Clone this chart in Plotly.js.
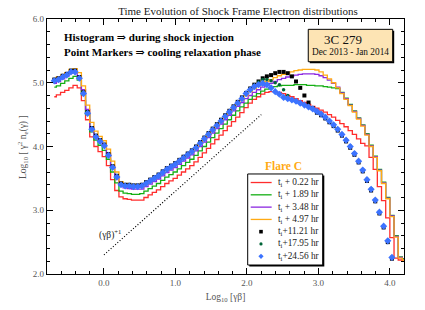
<!DOCTYPE html>
<html><head><meta charset="utf-8">
<script src="https://cdn.plot.ly/plotly-3.0.1.min.js"></script>
<style>html,body{margin:0;padding:0;background:#fff}#c{width:425px;height:310px}</style>
</head><body><div id="c"></div>
<script>
// bin centres, log10(gamma*beta)
const logGB = [-0.695,-0.637,-0.578,-0.520,-0.462,-0.404,-0.345,-0.287,-0.229,-0.170,
-0.112,-0.054,0.005,0.063,0.121,0.180,0.238,0.296,0.354,0.413,
0.471,0.529,0.588,0.646,0.704,0.763,0.821,0.879,0.937,0.996,
1.054,1.112,1.171,1.229,1.287,1.346,1.404,1.462,1.520,1.579,
1.637,1.695,1.754,1.812,1.870,1.929,1.987,2.045,2.103,2.162,
2.220,2.278,2.337,2.395,2.453,2.512,2.570,2.628,2.686,2.745,
2.803,2.861,2.920,2.978,3.036,3.095,3.153,3.211,3.269,3.328,
3.386,3.444,3.503,3.561,3.619,3.678,3.736,3.794,3.852,3.911,
3.969,4.027,4.086,4.144,4.202];

// histograms (shock injection)
const histT022 = [4.78,4.81,4.85,4.88,4.92,4.96,4.92,4.72,4.42,4.15,
4.00,3.92,3.84,3.70,3.48,3.31,3.21,3.18,3.17,3.16,
3.16,3.16,3.20,3.24,3.28,3.32,3.37,3.42,3.46,3.50,
3.55,3.60,3.65,3.70,3.76,3.83,3.90,3.97,4.04,4.11,
4.18,4.25,4.32,4.39,4.46,4.53,4.61,4.68,4.74,4.78,
4.82,4.85,4.86,4.86,4.85,4.83,4.80,4.78,4.75,4.72,
4.69,4.66,4.63,4.60,4.57,4.54,4.50,4.46,4.41,4.36,
4.31,4.25,4.19,4.12,4.05,4.01,3.83,3.64,3.37,3.15,
2.88,2.57,2.25,2.22,2.20];
const histT189 = [4.93,4.95,4.99,5.03,5.07,5.10,5.04,4.81,4.50,4.23,
4.10,4.02,3.94,3.80,3.60,3.43,3.30,3.27,3.26,3.25,
3.25,3.26,3.30,3.34,3.38,3.42,3.47,3.52,3.56,3.60,
3.65,3.70,3.75,3.80,3.86,3.93,4.00,4.07,4.14,4.21,
4.28,4.35,4.42,4.49,4.56,4.62,4.68,4.74,4.79,4.83,
4.87,4.90,4.92,4.94,4.95,4.96,4.96,4.96,4.97,4.97,
4.97,4.96,4.96,4.95,4.95,4.94,4.93,4.92,4.91,4.85,
4.76,4.66,4.56,4.45,4.34,4.20,4.02,3.85,3.64,3.44,
3.20,2.92,2.60,2.27,2.24];
const histT348 = [4.99,5.02,5.06,5.10,5.15,5.17,5.11,4.89,4.58,4.30,
4.17,4.10,4.02,3.89,3.69,3.52,3.39,3.35,3.34,3.33,
3.33,3.33,3.37,3.41,3.45,3.49,3.54,3.59,3.63,3.67,
3.72,3.77,3.82,3.87,3.93,4.00,4.07,4.14,4.21,4.28,
4.35,4.42,4.49,4.56,4.63,4.69,4.75,4.80,4.85,4.89,
4.93,4.96,4.99,5.02,5.05,5.07,5.09,5.11,5.12,5.13,
5.14,5.14,5.14,5.13,5.11,5.08,5.04,4.99,4.93,4.84,
4.75,4.65,4.55,4.44,4.33,4.19,4.01,3.84,3.63,3.43,
3.19,2.91,2.59,2.26,2.23];
const histT497 = [5.06,5.09,5.12,5.16,5.21,5.22,5.16,4.95,4.65,4.38,
4.24,4.16,4.09,3.96,3.77,3.60,3.45,3.39,3.38,3.37,
3.37,3.37,3.41,3.45,3.49,3.53,3.58,3.63,3.67,3.71,
3.76,3.81,3.86,3.91,3.97,4.04,4.11,4.18,4.25,4.32,
4.39,4.46,4.53,4.60,4.67,4.73,4.80,4.86,4.91,4.95,
4.99,5.02,5.05,5.08,5.11,5.13,5.15,5.17,5.19,5.20,
5.21,5.21,5.21,5.20,5.17,5.12,5.06,5.00,4.92,4.83,
4.74,4.64,4.54,4.43,4.32,4.18,4.00,3.83,3.62,3.42,
3.18,2.90,2.58,2.25,2.22];

// point markers (cooling relaxation)
const ptsT1121 = [5.05,5.07,5.11,5.14,5.19,5.19,5.09,4.85,4.54,4.29,
4.17,4.10,4.03,3.88,3.69,3.54,3.42,3.40,3.40,3.39,
3.39,3.40,3.44,3.48,3.52,3.56,3.61,3.66,3.70,3.74,
3.79,3.84,3.89,3.94,4.00,4.07,4.14,4.21,4.28,4.35,
4.42,4.49,4.56,4.63,4.70,4.77,4.84,4.91,4.97,5.02,
5.07,5.10,5.12,5.15,5.17,5.17,5.15,5.10,5.02,4.92,
4.80,4.69,4.60,4.53,4.49,4.44,4.38,4.32,4.25,4.17,
4.08,3.98,3.87,3.75,3.61,3.46,3.31,3.14,2.95,2.73,
2.50,2.24];
const ptsT1795 = [5.04,5.06,5.10,5.13,5.18,5.18,5.08,4.84,4.53,4.28,
4.16,4.09,4.02,3.87,3.68,3.53,3.41,3.39,3.39,3.38,
3.38,3.39,3.43,3.47,3.51,3.55,3.60,3.65,3.69,3.73,
3.78,3.83,3.88,3.93,3.99,4.06,4.13,4.20,4.27,4.34,
4.41,4.48,4.55,4.62,4.69,4.76,4.83,4.90,4.96,5.01,
5.05,5.05,5.03,5.00,4.97,4.89,4.80,4.74,4.72,4.69,
4.66,4.63,4.60,4.56,4.52,4.47,4.41,4.35,4.28,4.20,
4.11,4.01,3.90,3.78,3.64,3.49,3.34,3.17,2.98,2.76,
2.53,2.27];
const ptsT2456 = [5.03,5.05,5.09,5.12,5.17,5.17,5.07,4.83,4.52,4.27,
4.15,4.08,4.01,3.86,3.67,3.52,3.40,3.38,3.38,3.37,
3.37,3.38,3.42,3.46,3.50,3.54,3.59,3.64,3.68,3.72,
3.77,3.82,3.87,3.92,3.98,4.05,4.12,4.19,4.26,4.33,
4.40,4.47,4.54,4.61,4.68,4.75,4.83,4.89,4.94,4.97,
4.99,4.97,4.92,4.86,4.82,4.77,4.75,4.73,4.71,4.68,
4.65,4.62,4.59,4.55,4.51,4.46,4.40,4.34,4.27,4.19,
4.10,4.00,3.89,3.77,3.63,3.48,3.33,3.16,2.97,2.75,
2.52,2.26];

// (gamma beta)^+1 reference slope
const plawX = [0.0, 2.2];
const plawY = [2.3, 4.5];

const seriesLabels = ['t<sub>i</sub> + 0.22 hr','t<sub>i</sub> + 1.89 hr','t<sub>i</sub> + 3.48 hr','t<sub>i</sub> + 4.97 hr',
  't<sub>i</sub>+11.21 hr','t<sub>i</sub>+17.95 hr','t<sub>i</sub>+24.56 hr'];

const serif = "'Liberation Serif', 'DejaVu Serif', serif";
const histColors = ['rgb(255,45,45)','rgb(20,175,20)','rgb(140,40,225)','rgb(255,170,20)'];
const ptColors = ['rgb(0,0,0)','rgb(0,100,55)','rgb(60,115,255)'];
const ptSymbols = ['square','circle','diamond'];
const ptSizes = [4,3.5,5.5];

const hists = [histT022, histT189, histT348, histT497];
const pts = [ptsT1121, ptsT1795, ptsT2456];
const nPts = ptsT1121.length;

const traces = [];
hists.forEach((h,k)=>traces.push({x:logGB, y:h, type:'scatter', mode:'lines',
  line:{shape:'hvh', color:histColors[k], width:1.3}, name:seriesLabels[k], hoverinfo:'skip'}));
traces.push({x:plawX, y:plawY, type:'scatter', mode:'lines', line:{color:'black', width:1.2, dash:'1px,2px'}, hoverinfo:'skip'});
pts.forEach((p,k)=>traces.push({x:logGB.slice(0,nPts), y:p, type:'scatter', mode:'markers',
  marker:{symbol:ptSymbols[k], color:ptColors[k], size:ptSizes[k], line:{width:0}}, name:seriesLabels[4+k], hoverinfo:'skip'}));

// legend geometry in data coordinates
const legX0 = 2.010, legX1 = 3.059, legY0 = 2.141, legY1 = 3.569;
const legRowY = [3.435, 3.242, 3.049, 2.856, 2.664, 2.471, 2.278];
const sampX0 = 2.052, sampX1 = 2.345, sampXm = 2.196, textX = 2.406;
const dxPx = 1/71.5, dyPx = 1/63.75;

const shapes = [
  {type:'rect', xref:'x', yref:'y', x0:2.857+1.5*dxPx, x1:4.038+1.5*dxPx, y0:5.330-1.5*dyPx, y1:5.838-1.5*dyPx, fillcolor:'black', line:{width:0}, layer:'above'},
  {type:'rect', xref:'x', yref:'y', x0:2.857, x1:4.038, y0:5.330, y1:5.838, fillcolor:'rgb(253,228,180)', line:{color:'black', width:1}, layer:'above'},
  {type:'rect', xref:'x', yref:'y', x0:legX0+1.6*dxPx, x1:legX1+1.6*dxPx, y0:legY0-1.6*dyPx, y1:legY1-1.6*dyPx, fillcolor:'black', line:{width:0}, layer:'above'},
  {type:'rect', xref:'x', yref:'y', x0:legX0, x1:legX1, y0:legY0, y1:legY1, fillcolor:'white', line:{color:'black', width:1}, layer:'above'}
];
for (let k=0;k<4;k++) shapes.push({type:'line', xref:'x', yref:'y', x0:sampX0, x1:sampX1, y0:legRowY[k], y1:legRowY[k], line:{color:histColors[k], width:1.3}, layer:'above'});
shapes.push({type:'rect', xref:'x', yref:'y', x0:sampXm-1.8*dxPx, x1:sampXm+1.8*dxPx, y0:legRowY[4]-1.8*dyPx, y1:legRowY[4]+1.8*dyPx, fillcolor:ptColors[0], line:{width:0}, layer:'above'});
shapes.push({type:'circle', xref:'x', yref:'y', x0:sampXm-1.6*dxPx, x1:sampXm+1.6*dxPx, y0:legRowY[5]-1.6*dyPx, y1:legRowY[5]+1.6*dyPx, fillcolor:ptColors[1], line:{width:0}, layer:'above'});
{ const r=2.6, xm=sampXm, ym=legRowY[6];
  shapes.push({type:'path', xref:'x', yref:'y', path:`M ${xm-r*dxPx},${ym} L ${xm},${ym+r*dyPx} L ${xm+r*dxPx},${ym} L ${xm},${ym-r*dyPx} Z`, fillcolor:ptColors[2], line:{width:0}, layer:'above'}); }

const annotations = [
  {xref:'x', yref:'y', x:-0.592, y:5.722, xanchor:'left', yanchor:'middle', showarrow:false,
   text:'<b>Histogram ⇒ during shock injection</b>', font:{family:serif, size:11, color:'black'}},
  {xref:'x', yref:'y', x:-0.592, y:5.478, xanchor:'left', yanchor:'middle', showarrow:false,
   text:'<b>Point Markers ⇒ cooling relaxation phase</b>', font:{family:serif, size:11, color:'black'}},
  {xref:'x', yref:'y', x:3.346, y:5.671, xanchor:'center', yanchor:'middle', showarrow:false,
   text:'3C 279', font:{family:serif, size:13, color:'#111'}},
  {xref:'x', yref:'y', x:3.441, y:5.478, xanchor:'center', yanchor:'middle', showarrow:false,
   text:'Dec 2013 - Jan 2014', font:{family:serif, size:9.3, color:'#111'}},
  {xref:'x', yref:'y', x:2.517, y:3.694, xanchor:'center', yanchor:'middle', showarrow:false,
   text:'<b>Flare C</b>', font:{family:serif, size:11.5, color:'rgb(255,170,20)'}},
  {xref:'x', yref:'y', x:-0.102, y:2.62, xanchor:'left', yanchor:'middle', showarrow:false,
   text:'(γβ)<sup>+1</sup>', font:{family:serif, size:9.5, color:'#222'}},
  {xref:'paper', yref:'paper', x:(22-47)/357, y:(274-147)/255, xanchor:'center', yanchor:'middle', textangle:-90, showarrow:false,
   text:'Log<sub>10</sub> [ γ<sup>2</sup> n<sub>e</sub>(γ) ]', font:{family:serif, size:9.5, color:'#555'}}
];
seriesLabels.forEach((t,k)=>annotations.push({xref:'x', yref:'y', x:textX, y:legRowY[k], xanchor:'left', yanchor:'middle', showarrow:false,
  text:t, font:{family:serif, size:9.3, color:'#222'}}));

const axisCommon = {showline:true, linecolor:'black', linewidth:1.2, mirror:'allticks', ticks:'inside', ticklen:6,
  tickwidth:1, tickcolor:'black', showgrid:false, zeroline:false, tickformat:'.1f',
  tickfont:{family:serif, size:9, color:'#555'}, fixedrange:true};

const layout = {
  width:425, height:310, margin:{l:47, r:21, t:19, b:36},
  paper_bgcolor:'white', plot_bgcolor:'white', showlegend:false,
  title:{text:'Time Evolution of Shock Frame Electron distributions', font:{family:serif, size:11, color:'#222'},
    xref:'container', x:238/425, xanchor:'center', yref:'container', y:1-11/310, yanchor:'middle'},
  xaxis:Object.assign({}, axisCommon, {range:[-0.797, 4.196], tick0:0, dtick:1,
    minor:{tick0:0, dtick:0.2, ticks:'inside', ticklen:3, tickcolor:'black', tickwidth:1},
    title:{text:'Log<sub>10</sub> [γβ]', font:{family:serif, size:9.5, color:'#555'}, standoff:6}}),
  yaxis:Object.assign({}, axisCommon, {range:[2, 6], tick0:2, dtick:1,
    minor:{tick0:2, dtick:0.2, ticks:'inside', ticklen:3, tickcolor:'black', tickwidth:1}}),
  shapes:shapes, annotations:annotations
};
Plotly.newPlot('c', traces, layout, {staticPlot:true, displayModeBar:false});
</script></body></html>
